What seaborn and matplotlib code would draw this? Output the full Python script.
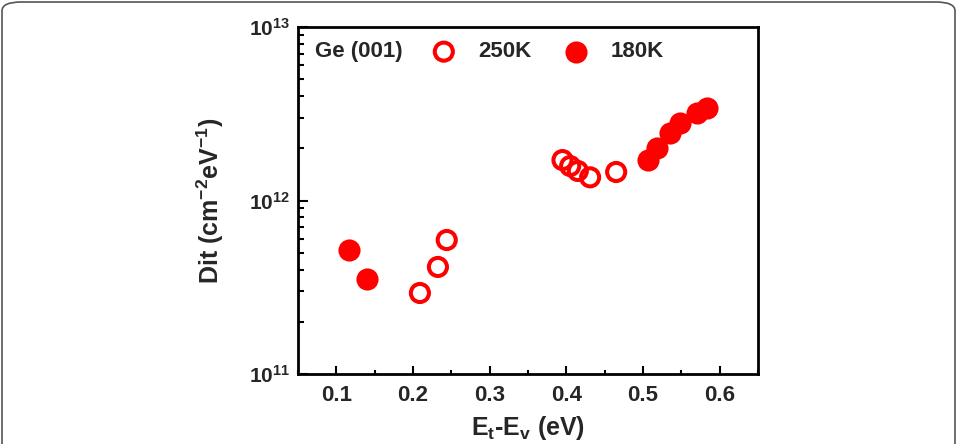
import numpy as np
import pandas as pd
import matplotlib
matplotlib.use('Agg')
import matplotlib.pyplot as plt
import matplotlib.ticker as mticker
from matplotlib.patches import FancyBboxPatch
import seaborn as sns

# 250K (open symbols)
e_250 = [0.209, 0.2325, 0.244, 0.395, 0.405, 0.415, 0.431, 0.465]
dit_250 = [2.93e11, 4.14e11, 5.92e11, 1.71e12, 1.58e12, 1.48e12, 1.36e12, 1.46e12]
# 180K (filled symbols)
e_180 = [0.1165, 0.140, 0.506, 0.518, 0.535, 0.548, 0.570, 0.583]
dit_180 = [5.19e11, 3.53e11, 1.71e12, 2.01e12, 2.45e12, 2.80e12, 3.19e12, 3.41e12]

df_250 = pd.DataFrame({'E': e_250, 'Dit': dit_250})
df_180 = pd.DataFrame({'E': e_180, 'Dit': dit_180})

sns.set_style('ticks')
plt.rcParams['font.family'] = ['Liberation Sans', 'DejaVu Sans']
plt.rcParams['font.weight'] = 'bold'
plt.rcParams['mathtext.fontset'] = 'custom'
plt.rcParams['mathtext.rm'] = 'Liberation Sans:bold'
plt.rcParams['mathtext.bf'] = 'Liberation Sans:bold'
plt.rcParams['mathtext.it'] = 'Liberation Sans:bold'

fig = plt.figure(figsize=(9.57, 4.44), dpi=100)
# card border of the original picture
fig.patches.append(FancyBboxPatch((2 / 957, -0.2), 953 / 957, 1.2 - 2 / 444,
                                  boxstyle='round,pad=0,rounding_size=0.02',
                                  transform=fig.transFigure, fill=False,
                                  edgecolor='#555555', linewidth=1.2))
ax = fig.add_axes([298 / 957, 1 - 374 / 444, 460 / 957, 347 / 444])

red = '#ff0000'
sns.scatterplot(data=df_250, x='E', y='Dit', ax=ax, s=170, marker='o',
                facecolors='none', edgecolor=red, linewidth=2.9, label='250K', zorder=3)
sns.scatterplot(data=df_180, x='E', y='Dit', ax=ax, s=170, marker='o',
                color=red, edgecolor=red, linewidth=2.9, label='180K', zorder=3)

ax.set_yscale('log')
ax.set_xlim(0.05, 0.65)
ax.set_ylim(1e11, 1e13)
ax.set_xticks([0.1, 0.2, 0.3, 0.4, 0.5, 0.6])
ax.set_xticklabels(['0.1', '0.2', '0.3', '0.4', '0.5', '0.6'])
ax.xaxis.set_minor_locator(mticker.MultipleLocator(0.05))
ax.set_yticks([1e11, 1e12, 1e13])
ax.set_yticklabels([r'$10^{11}$', r'$10^{12}$', r'$10^{13}$'])
ax.yaxis.set_minor_locator(mticker.LogLocator(base=10, subs=np.arange(2, 10)))
ax.yaxis.set_minor_formatter(mticker.NullFormatter())

ax.tick_params(axis='both', which='both', direction='in', top=False, right=False,
               width=1.5, color='black')
ax.tick_params(axis='x', which='major', length=6, labelsize=16, pad=8)
ax.tick_params(axis='x', which='minor', length=3)
ax.tick_params(axis='y', which='major', length=7, labelsize=15, pad=6)
ax.tick_params(axis='y', which='minor', length=4)
for sp in ax.spines.values():
    sp.set_visible(True)
    sp.set_linewidth(2)
    sp.set_color('black')

ax.set_xlabel(r'E$_\mathregular{t}$-E$_\mathregular{v}$ (eV)', fontsize=18, fontweight='bold', labelpad=6)
ax.set_ylabel(r'Dit (cm$^\mathregular{-2}$eV$^\mathregular{-1}$)', fontsize=18, fontweight='bold', labelpad=16)

ax.text(0.037, 0.928, 'Ge (001)', transform=ax.transAxes, fontsize=16,
        fontweight='bold', va='center', ha='left')
ax.legend(loc='center left', bbox_to_anchor=(0.288, 0.928), ncol=2, frameon=False,
          handlelength=1.2, handletextpad=0.95, columnspacing=1.4,
          borderpad=0, borderaxespad=0, prop={'weight': 'bold', 'size': 16})

fig.savefig('out.png', dpi=100)
